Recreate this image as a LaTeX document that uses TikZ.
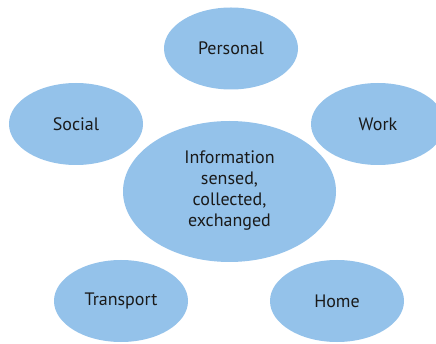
\documentclass[tikz,border=0pt]{standalone}
\usepackage{fontspec}
\setmainfont{PT Sans}
\usetikzlibrary{shapes.geometric}
\definecolor{bubble}{RGB}{148,194,234}
\definecolor{ink}{RGB}{26,26,26}
\tikzset{
  bubble/.style={ellipse, fill=bubble, draw=none, text=ink, align=center,
    font=\fontsize{18}{21}\selectfont, inner sep=0pt},
  small/.style={bubble, minimum width=134pt, minimum height=82pt},
  big/.style={bubble, minimum width=213pt, minimum height=141pt}
}
\begin{document}
\begin{tikzpicture}[x=1pt,y=-1pt]
  \useasboundingbox (0,0) rectangle (436,344);
  \clip (0,0) rectangle (436,344);
  \node[small] (personal)  at (231,48.5) {Personal};
  \node[small] (social)    at (76,124)   {Social};
  \node[small] (work)      at (378,124)  {Work};
  \node[big]   (info)      at (229.5,191.5) {};
  \node[text=ink, align=center, font=\fontsize{18}{21}\selectfont, inner sep=0pt]
    (infotext) at (229.5,190.5) {Information\\sensed,\\collected,\\exchanged};
  \node[small] (transport) at (121,301)  {Transport};
  \node[small] (home)      at (337,301)  {Home};
\end{tikzpicture}
\end{document}
